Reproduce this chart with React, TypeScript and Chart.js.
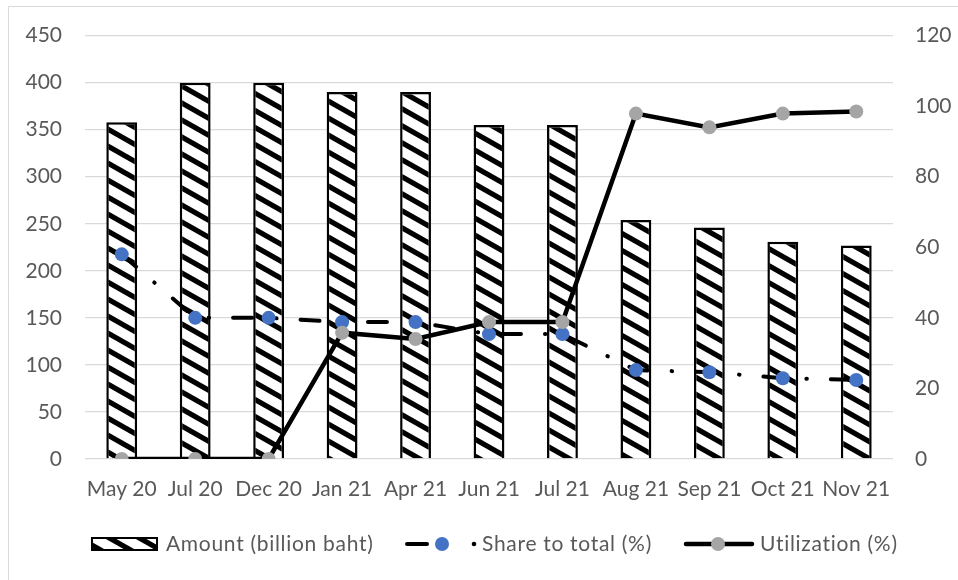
import React, { useEffect, useRef } from "react";
import { Chart, registerables } from "chart.js";

Chart.register(...registerables);

// Periods shown on the category axis
const categories = [
  "May 20", "Jul 20", "Dec 20", "Jan 21", "Apr 21", "Jun 21",
  "Jul 21", "Aug 21", "Sep 21", "Oct 21", "Nov 21",
];

// Amount (billion baht) — left axis
const amount = [358, 400, 400, 390, 390, 355, 355, 254, 246, 231, 227];

// Share to total (%) — right axis
const shareToTotal = [58, 40, 40, 38.8, 38.8, 35.4, 35.4, 25.2, 24.6, 22.9, 22.4];

// Utilization (%) — right axis
const utilization = [0, 0, 0, 35.8, 34.0, 38.8, 38.8, 97.9, 94.0, 97.9, 98.5];

// Axis ranges
const leftAxis = { min: 0, max: 450, step: 50 };
const rightAxis = { min: 0, max: 120, step: 20 };

const legendLabels = ["Amount (billion baht)", "Share to total (%)", "Utilization (%)"];

const FONT = "Lato";
const TEXT_COLOR = "#595959";
const GRID_COLOR = "#D9D9D9";
const BLUE = "#4472C4";
const GRAY = "#A5A5A5";

// Downward diagonal hatch used for the bars
function makeHatch(): CanvasPattern | string {
  const W = 30;
  const H = 17;
  const c = document.createElement("canvas");
  c.width = W;
  c.height = H;
  const g = c.getContext("2d");
  if (!g) return "#ffffff";
  g.fillStyle = "#ffffff";
  g.fillRect(0, 0, W, H);
  g.strokeStyle = "#000000";
  g.lineWidth = 5.2;
  for (let k = -2; k <= 2; k++) {
    g.beginPath();
    g.moveTo(-W, -H + k * H);
    g.lineTo(2 * W, 2 * H + k * H);
    g.stroke();
  }
  const p = g.createPattern(c, "repeat");
  return p || "#ffffff";
}

export default function App() {
  const canvasRef = useRef<HTMLCanvasElement | null>(null);

  useEffect(() => {
    document.body.style.margin = "0";
    const canvas = canvasRef.current;
    if (!canvas) return;
    const hatch = makeHatch();

    const frameAndLegend = {
      id: "frameAndLegend",
      beforeDraw(chart: any) {
        const ctx = chart.ctx as CanvasRenderingContext2D;
        ctx.save();
        ctx.fillStyle = "#ffffff";
        ctx.fillRect(0, 0, chart.width, chart.height);
        ctx.strokeStyle = GRID_COLOR;
        ctx.lineWidth = 1;
        ctx.beginPath();
        ctx.moveTo(8.5, chart.height);
        ctx.lineTo(8.5, 6.5);
        ctx.lineTo(chart.width, 6.5);
        ctx.stroke();
        ctx.restore();
      },
      afterDraw(chart: any) {
        const ctx = chart.ctx as CanvasRenderingContext2D;
        const cy = 544;
        ctx.save();
        ctx.font = `21px ${FONT}`;
        (ctx as any).letterSpacing = "0.7px";
        ctx.fillStyle = TEXT_COLOR;
        ctx.textBaseline = "middle";
        ctx.textAlign = "left";

        // Amount swatch
        ctx.fillStyle = hatch as any;
        ctx.fillRect(91, cy - 7, 67, 14);
        ctx.strokeStyle = "#000";
        ctx.lineWidth = 2;
        ctx.strokeRect(92, cy - 6, 65, 12);
        ctx.fillStyle = TEXT_COLOR;
        ctx.fillText(legendLabels[0], 166, cy);

        // Share to total swatch
        ctx.strokeStyle = "#000";
        ctx.lineWidth = 4;
        ctx.lineCap = "round";
        ctx.beginPath();
        ctx.moveTo(407, cy);
        ctx.lineTo(427, cy);
        ctx.stroke();
        ctx.fillStyle = "#000";
        ctx.beginPath();
        ctx.arc(474, cy, 2.3, 0, Math.PI * 2);
        ctx.fill();
        ctx.fillStyle = BLUE;
        ctx.beginPath();
        ctx.arc(442, cy, 7, 0, Math.PI * 2);
        ctx.fill();
        ctx.fillStyle = TEXT_COLOR;
        ctx.fillText(legendLabels[1], 482, cy);

        // Utilization swatch
        ctx.strokeStyle = "#000";
        ctx.lineWidth = 4.5;
        ctx.beginPath();
        ctx.moveTo(686, cy);
        ctx.lineTo(752, cy);
        ctx.stroke();
        ctx.fillStyle = GRAY;
        ctx.beginPath();
        ctx.arc(718, cy, 7, 0, Math.PI * 2);
        ctx.fill();
        ctx.fillStyle = TEXT_COLOR;
        ctx.fillText(legendLabels[2], 760, cy);
        ctx.restore();
      },
    };

    const chart = new Chart(canvas, {
      type: "bar",
      data: {
        labels: categories,
        datasets: [
          {
            type: "line",
            label: legendLabels[2],
            data: utilization,
            yAxisID: "y1",
            borderColor: "#000",
            borderWidth: 4.5,
            tension: 0,
            pointRadius: 7,
            pointBorderWidth: 0,
            pointBackgroundColor: GRAY,
            pointHoverRadius: 7,
            order: 1,
          },
          {
            type: "line",
            label: legendLabels[1],
            data: shareToTotal,
            yAxisID: "y1",
            borderColor: "#000",
            borderWidth: 4,
            borderDash: [19, 24, 0.5, 24],
            borderCapStyle: "round",
            tension: 0,
            pointRadius: 7,
            pointBorderWidth: 0,
            pointBackgroundColor: BLUE,
            pointHoverRadius: 7,
            order: 2,
          },
          {
            type: "bar",
            label: legendLabels[0],
            data: amount,
            yAxisID: "y",
            backgroundColor: hatch as any,
            borderColor: "#000",
            borderWidth: 2.5,
            borderSkipped: "bottom",
            barPercentage: 0.42,
            categoryPercentage: 1,
            order: 3,
          },
        ],
      },
      options: {
        responsive: false,
        animation: false,
        events: [],
        layout: { padding: { top: 35, bottom: 80, left: 0, right: 0 } },
        plugins: {
          legend: { display: false },
          tooltip: { enabled: false },
          title: { display: false },
        },
        scales: {
          x: {
            grid: { display: false, drawTicks: false },
            border: { display: false },
            ticks: {
              color: TEXT_COLOR,
              font: { family: FONT, size: 21 },
              padding: 18,
              autoSkip: false,
              maxRotation: 0,
            },
            afterFit(scale: any) {
              scale.height = 41;
            },
          },
          y: {
            position: "left",
            min: leftAxis.min,
            max: leftAxis.max,
            ticks: {
              stepSize: leftAxis.step,
              color: TEXT_COLOR,
              font: { family: FONT, size: 21 },
              padding: 23,
            },
            grid: { color: GRID_COLOR, lineWidth: 1.3, drawTicks: false },
            border: { display: false },
            afterFit(scale: any) {
              scale.width = 85;
            },
          },
          y1: {
            position: "right",
            min: rightAxis.min,
            max: rightAxis.max,
            ticks: {
              stepSize: rightAxis.step,
              color: TEXT_COLOR,
              font: { family: FONT, size: 21 },
              padding: 22,
            },
            grid: { display: false, drawTicks: false },
            border: { display: false },
            afterFit(scale: any) {
              scale.width = 65;
            },
          },
        },
      },
      plugins: [frameAndLegend],
    });

    return () => chart.destroy();
  }, []);

  return (
    <div style={{ position: "absolute", left: 0, top: 0, width: 958, height: 580, background: "#fff" }}>
      <canvas ref={canvasRef} width={958} height={580} />
    </div>
  );
}
